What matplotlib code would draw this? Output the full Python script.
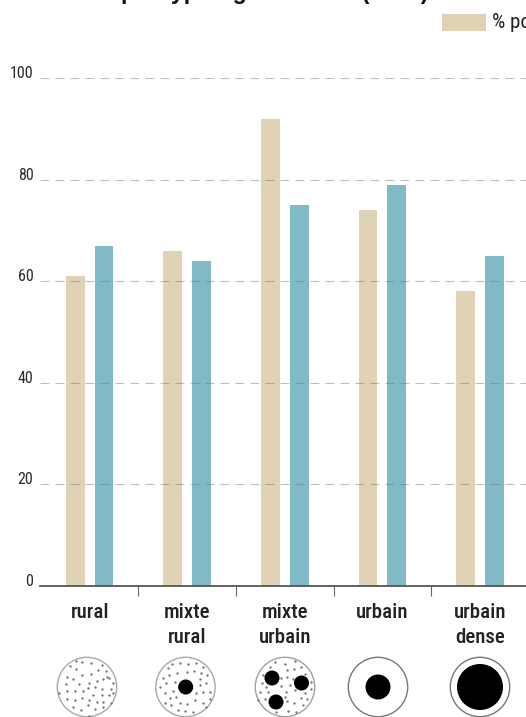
import matplotlib
matplotlib.use("Agg")
import matplotlib.pyplot as plt
from matplotlib.patches import Circle, Rectangle

plt.rcParams['font.family'] = ['Roboto Condensed', 'DejaVu Sans']

W, H = 526, 717

categories = [["rural"], ["mixte", "rural"], ["mixte", "urbain"], ["urbain"], ["urbain", "dense"]]
series_a = [61, 66, 92, 74, 58]
series_b = [67, 64, 75, 79, 65]
y_ticks = [0, 20, 40, 60, 80, 100]
title = "par typologie urbaine (2015)"
legend_label = "% population"

TAN = "#E0D2B5"
TEAL = "#80BAC6"

# Settlement pictograms: crop origin, centre and blobs in pixels, dots in third-of-a-pixel units
dots_rural = [(60,47),(78,33),(97,36),(124,38),(155,45),(78,58),(97,75),(124,72),(145,60),(167,62),
              (50,82),(68,87),(172,80),(190,98),(48,102),(88,103),(118,98),(142,92),(160,88),(178,85),
              (52,122),(75,122),(100,122),(135,112),(115,115),(155,118),(182,117),(27,130),(52,146),
              (75,150),(97,143),(118,150),(130,135),(155,135),(178,135),(140,157),(160,155),(182,158),
              (68,170),(92,180),(113,165),(135,178),(160,172),(118,197),(190,130)]
dots_mixed_rural = [(72,42),(97,40),(120,42),(143,38),(165,52),(60,55),(88,70),(118,65),(138,62),(160,68),
                    (178,75),(62,75),(45,85),(55,98),(80,95),(155,88),(175,98),(35,110),(50,130),(75,122),
                    (155,105),(145,128),(165,125),(185,125),(65,145),(85,140),(50,158),(70,165),(95,158),
                    (118,163),(140,150),(165,158),(185,148),(90,180),(112,183),(135,185),(175,170)]
dots_mixed_urban = [(65,52),(82,37),(112,43),(140,32),(160,50),(170,72),(118,60),(137,58),(45,75),(100,85),
                    (118,82),(135,88),(42,100),(55,110),(100,108),(125,105),(35,125),(60,125),(115,125),
                    (140,120),(170,128),(190,95),(190,118),(30,150),(50,148),(118,152),(137,158),(160,143),
                    (178,148),(165,165),(120,183),(145,185),(85,185),(110,140)]
icons = [
    dict(origin=(50, 650), centre=(87, 687), blobs=[], dots=dots_rural, edge="#a8a8a8"),
    dict(origin=(148, 650), centre=(185.5, 687), blobs=[(185.7, 687, 7.5)], dots=dots_mixed_rural, edge="#a8a8a8"),
    dict(origin=(248, 650), centre=(285, 687),
         blobs=[(272, 678, 7.5), (301.5, 683, 7.5), (276, 702, 7.5)], dots=dots_mixed_urban, edge="#a0a0a0"),
    dict(origin=(0, 0), centre=(378, 687), blobs=[(378, 687, 12.5)], dots=[], edge="#777777"),
    dict(origin=(0, 0), centre=(480, 687), blobs=[(480, 687, 23)], dots=[], edge="#777777"),
]

fig = plt.figure(figsize=(W / 100, H / 100), dpi=100, facecolor="white")

# Bar axes: baseline at y=586 px, 100 at y=78 px, left edge at x=40 px
ax = fig.add_axes([40 / W, (H - 586) / H, (W - 40) / W, (586 - 78) / H])
ax.set_xlim(-0.508, 4.472)
ax.set_ylim(0, 100)
ax.patch.set_alpha(0)

width = 0.192
offset = 0.1475
xs = list(range(len(categories)))
ax.bar([x - offset for x in xs], series_a, width, color=TAN, zorder=2)
ax.bar([x + offset for x in xs], series_b, width, color=TEAL, zorder=2)

for t in y_ticks[1:]:
    ax.axhline(t, color="#6f6f6f", alpha=0.45, lw=0.8, dashes=(8, 5.5), zorder=3)

for s in ax.spines.values():
    s.set_visible(False)
ax.spines["bottom"].set_visible(True)
ax.spines["bottom"].set_color("#555555")
ax.spines["bottom"].set_linewidth(1.3)

ax.set_xticks([x + 0.5 for x in xs[:-1]])
ax.set_xticklabels([])
ax.tick_params(axis="x", length=7, width=0.8, color="#666666")
ax.set_yticks([])

# Overlay in pixel coordinates for labels, legend and pictograms
ov = fig.add_axes([0, 0, 1, 1])
ov.set_xlim(0, W)
ov.set_ylim(H, 0)
ov.axis("off")
ov.patch.set_alpha(0)

for t in y_ticks:
    ypix = 586 - t * 5.08
    ov.text(33.5, ypix - 4.5, str(t), ha="right", va="center", fontsize=11.5, color="#2a2a2a")

for x, lines in zip(xs, categories):
    xpix = 89.7 + x * 97.6
    for i, line in enumerate(lines):
        ov.text(xpix, 613 + i * 24.5, line, ha="center", va="center", fontsize=15,
                fontweight="medium", color="#222222")

ov.text(275, -1, title, ha="center", va="baseline", fontsize=16.7, fontweight="bold",
        family=['Liberation Sans', 'DejaVu Sans'], color="#111111", clip_on=False)

ov.add_patch(Rectangle((442, 14), 44, 17, facecolor=TAN, edgecolor="none"))
ov.text(492.5, 23, legend_label, ha="left", va="center", fontsize=15, color="#222222", clip_on=True)

for icon in icons:
    cx, cy = icon["centre"]
    ov.add_patch(Circle((cx, cy), 29.7, facecolor="white", edgecolor=icon["edge"], lw=1.0, zorder=2))
    ox, oy = icon["origin"]
    if icon["dots"]:
        ov.scatter([ox + d[0] / 3 for d in icon["dots"]], [oy + d[1] / 3 for d in icon["dots"]],
                   s=3.0, color="#777777", linewidths=0, zorder=3)
    for bx, by, r in icon["blobs"]:
        ov.add_patch(Circle((bx, by), r, facecolor="black", edgecolor="none", zorder=4))

fig.savefig("out.png", dpi=100)
